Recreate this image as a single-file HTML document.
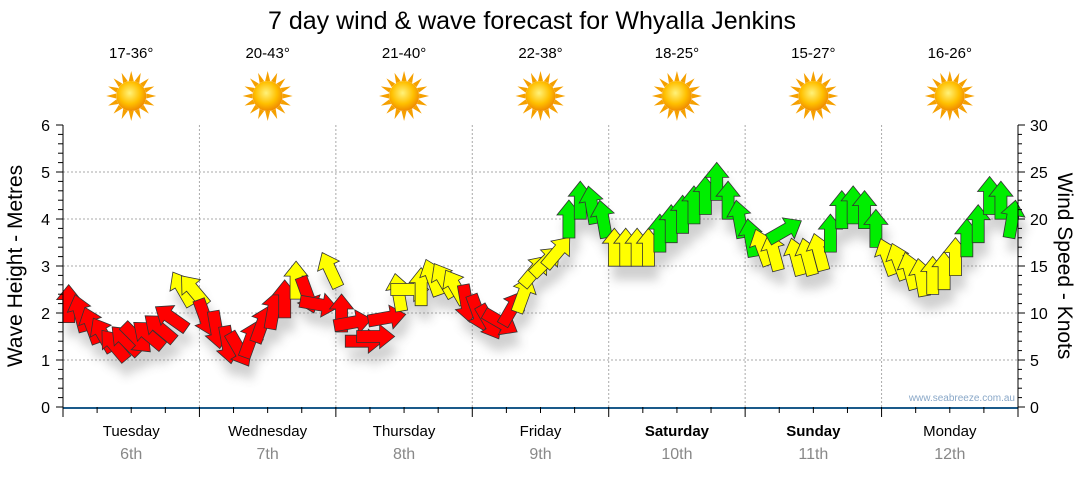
<!DOCTYPE html>
<html><head><meta charset="utf-8">
<style>
body{margin:0;background:#fff;width:1080px;height:475px;overflow:hidden;font-family:"Liberation Sans",Verdana,sans-serif}
svg text{font-family:"Liberation Sans",Verdana,sans-serif}
</style></head>
<body>
<svg id="chart" width="1080" height="475" viewBox="0 0 1080 475" xmlns="http://www.w3.org/2000/svg">
<defs>
<filter id="shadow" x="-50%" y="-50%" width="200%" height="200%"><feGaussianBlur stdDeviation="5"/></filter>
<radialGradient id="sunG" cx="45%" cy="40%" r="60%"><stop offset="0" stop-color="#fff27a"/><stop offset="0.6" stop-color="#ffc000"/><stop offset="1" stop-color="#f08a00"/></radialGradient>
</defs>
<text x="532" y="29" text-anchor="middle" font-size="25" fill="#000">7 day wind &amp; wave forecast for Whyalla Jenkins</text>
<g id="grid"></g>
<g id="shadows" filter="url(#shadow)" opacity="0.3"></g>
<g id="arrows"></g>
<g id="axes"></g>
<g id="header"></g>
<text transform="translate(22,266) rotate(-90)" text-anchor="middle" font-size="21">Wave Height - Metres</text>
<text transform="translate(1058,266) rotate(90)" text-anchor="middle" font-size="21">Wind Speed - Knots</text>
<text x="1015" y="401" text-anchor="end" font-size="10" fill="#8aa8c8">www.seabreeze.com.au</text>
</svg>
<script>
const days=["Tuesday","Wednesday","Thursday","Friday","Saturday","Sunday","Monday"];
const dates=["6th","7th","8th","9th","10th","11th","12th"];
const temps=["17-36°","20-43°","21-40°","22-38°","18-25°","15-27°","16-26°"];
const boldDays=[false,false,false,false,true,true,false];
const waveTicks=[0,1,2,3,4,5,6];
const knotTicks=[0,5,10,15,20,25,30];
// wind speed (knots), 2-hourly from Tuesday 00:00
const windSpeed=[11,10,8.7,7.7,6.6,7.1,7.3,7.7,8.4,9.5,12.6,12.4,
9.5,8.2,6.6,6.1,7.2,8.8,10.3,11.5,13.5,11.9,10.9,14.6,
10,9,7,7.5,9.5,12.2,12.5,12.8,13.8,13.5,12.8,11,
10,9,9,10.5,12,14.5,15.5,16.5,20,22,21.5,20,
17,17,17,17,18.5,19.5,20.5,21.5,22.5,24,22,20,
18,17,16.5,18.8,16,16,16.5,18.5,21,21.5,21,19,
16,15.5,14.5,13.8,14,14.5,16,18,19.5,22.5,22,20];
// arrow heading (degrees clockwise from up)
const windDir=[0,-15,-20,-30,-40,-45,135,-50,-50,-55,-30,-40,
160,170,170,150,20,20,10,0,0,160,100,-25,
0,80,90,90,80,-10,90,0,-20,-30,-30,170,
160,150,120,30,20,40,45,40,0,0,-10,-10,
0,0,0,0,0,0,0,0,0,0,0,-10,
-10,-20,-15,60,-15,-15,-15,0,0,0,0,0,
-20,-20,-15,-10,0,0,0,0,0,0,0,10];

const NS="http://www.w3.org/2000/svg";
const X0=63,X1=1018,Y0=407,Y1=125;
const xH=h=>X0+h/168*(X1-X0);
const yW=v=>Y0-v/6*(Y0-Y1);
const yK=v=>Y0-v/30*(Y0-Y1);
function mk(tag,attrs,parent){const e=document.createElementNS(NS,tag);for(const k in attrs)e.setAttribute(k,attrs[k]);parent.appendChild(e);return e;}
const grid=document.getElementById('grid'),axes=document.getElementById('axes'),header=document.getElementById('header');
const arrowsG=document.getElementById('arrows'),shadowsG=document.getElementById('shadows');
waveTicks.forEach(v=>{if(v>0&&v<6){const l=mk('line',{x1:X0,x2:X1,y1:yW(v),y2:yW(v),stroke:'#aaa','stroke-dasharray':'2,2'},grid);

}});
for(let d=1;d<7;d++){const l=mk('line',{x1:xH(d*24),x2:xH(d*24),y1:Y1,y2:Y0,stroke:'#aaa','stroke-dasharray':'2,2'},grid);

}
mk('line',{x1:X0,x2:X0,y1:Y1,y2:Y0,stroke:'#000'},axes);
mk('line',{x1:X1,x2:X1,y1:Y1,y2:Y0,stroke:'#000'},axes);
for(let v=0;v<=6.001;v+=0.2){const big=Math.abs(v-Math.round(v))<0.01;mk('line',{x1:X0-(big?7:5),x2:X0,y1:yW(v),y2:yW(v),stroke:'#000'},axes);}
for(let v=0;v<=30;v+=1){const big=v%5==0;mk('line',{x1:X1,x2:X1+(big?7:4),y1:yK(v),y2:yK(v),stroke:'#000'},axes);}
waveTicks.forEach(v=>{const t=mk('text',{x:X0-13,y:yW(v)+6,'text-anchor':'end','font-size':16},axes);t.textContent=v;

});
knotTicks.forEach(v=>{const t=mk('text',{x:X1+12,y:yK(v)+6,'text-anchor':'start','font-size':16},axes);t.textContent=v;

});
mk('line',{x1:X0,x2:X1,y1:Y0+1,y2:Y0+1,stroke:'#1a5a8a','stroke-width':2},axes);
for(let h=0;h<=168;h+=6){const big=h%24==0;mk('line',{x1:xH(h),x2:xH(h),y1:Y0,y2:Y0+(big?10:6),stroke:'#000'},axes);}
days.forEach((d,i)=>{const cx=xH(i*24+12);
const t=mk('text',{x:cx,y:436,'text-anchor':'middle','font-size':15,'font-weight':boldDays[i]?'bold':'normal'},axes);t.textContent=d;


const t2=mk('text',{x:cx,y:459,'text-anchor':'middle','font-size':16,fill:'#888'},axes);t2.textContent=dates[i];


const t3=mk('text',{x:cx,y:58,'text-anchor':'middle','font-size':15},header);t3.textContent=temps[i];


const g=mk('g',{transform:`translate(${cx},96)`},header);


for(let a=0;a<360;a+=22.5){mk('polygon',{points:'-2.5,-15 0,-25 2.5,-15',fill:'#f5a000',transform:`rotate(${a})`},g);}
mk('circle',{r:15,fill:'url(#sunG)'},g);
});
const arrowPts='0,-19 12,-4 6,-4 6,19 -6,19 -6,-4 -12,-4';
windSpeed.forEach((v,i)=>{const x=xH(i*2+1),y=yK(v),a=windDir[i];
const col=v<12?'#ff0000':(v<17.5?'#ffff00':'#00ee00');
mk('polygon',{points:arrowPts,fill:'#666',transform:`translate(${x+4},${y+14}) rotate(${a})`},shadowsG);
const p=mk('polygon',{points:arrowPts,fill:col,stroke:'#333','stroke-width':0.8,transform:`translate(${x},${y}) rotate(${a})`},arrowsG);


});
</script>
</body></html>
